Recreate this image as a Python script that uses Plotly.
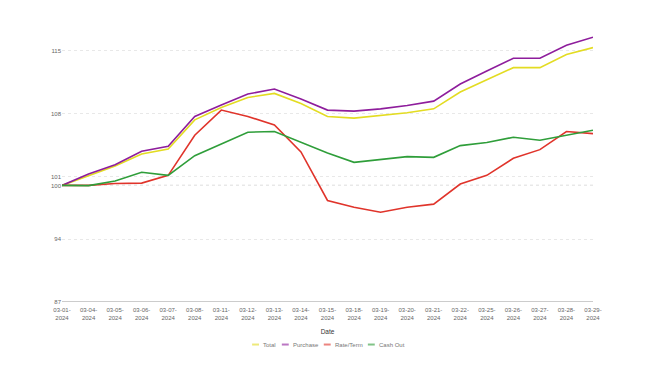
import plotly.graph_objects as go

dates = ["03-01-2024", "03-04-2024", "03-05-2024", "03-06-2024", "03-07-2024", "03-08-2024",
         "03-11-2024", "03-12-2024", "03-13-2024", "03-14-2024", "03-15-2024", "03-18-2024",
         "03-19-2024", "03-20-2024", "03-21-2024", "03-22-2024", "03-25-2024", "03-26-2024",
         "03-27-2024", "03-28-2024", "03-29-2024"]

total = [100, 101.12, 102.16, 103.51, 104.07, 107.31, 108.69, 109.81, 110.26, 109.14, 107.69,
         107.50, 107.76, 108.10, 108.54, 110.41, 111.79, 113.13, 113.13, 114.59, 115.37]
purchase = [100, 101.27, 102.31, 103.81, 104.37, 107.69, 108.96, 110.19, 110.75, 109.63, 108.40,
            108.28, 108.54, 108.92, 109.40, 111.31, 112.76, 114.18, 114.18, 115.63, 116.53]
rate_term = [100, 100, 100.22, 100.26, 101.12, 105.60, 108.40, 107.69, 106.75, 103.73, 98.32,
             97.57, 97.01, 97.57, 97.91, 100.15, 101.12, 103.02, 103.99, 106.01, 105.78]
cash_out = [100, 99.98, 100.49, 101.46, 101.12, 103.32, 104.63, 105.93, 106.01, 104.81, 103.62,
            102.57, 102.87, 103.21, 103.13, 104.44, 104.78, 105.37, 105.04, 105.63, 106.16]

ytick_vals = [87, 94, 100, 101, 108, 115]
tick_labels = [d[:6] + "<br>" + d[6:] for d in dates]

series_names = ["Total", "Purchase", "Rate/Term", "Cash Out"]
series_values = [total, purchase, rate_term, cash_out]
series_colors = ["#e3dc22", "#8e1d9c", "#e0342b", "#2f9e3a"]

# legend layout (paper coords)
legend_line_x = [0.358, 0.414, 0.493, 0.576]
legend_y = -0.153

fig = go.Figure()
for name, vals, color in zip(series_names, series_values, series_colors):
    fig.add_trace(go.Scatter(x=dates, y=vals, name=name, mode="lines",
                             line=dict(color=color, width=1.6), showlegend=False))

fig.add_shape(type="line", xref="paper", yref="y", x0=0, x1=1, y0=100, y1=100,
              line=dict(color="#888888", width=1, dash="dot"), layer="below")
fig.add_shape(type="line", xref="paper", yref="y", x0=0, x1=1, y0=87, y1=87,
              line=dict(color="#cccccc", width=2), layer="above")

for name, color, lx in zip(series_names, series_colors, legend_line_x):
    fig.add_shape(type="line", xref="paper", yref="paper", x0=lx, x1=lx + 0.013,
                  y0=legend_y, y1=legend_y, line=dict(color=color, width=2), opacity=0.6)
    fig.add_annotation(xref="paper", yref="paper", x=lx + 0.017, y=legend_y, text=name,
                       showarrow=False, xanchor="left", yanchor="middle",
                       font=dict(size=6, color="#777777"))

font = "Liberation Sans, Arial, sans-serif"
fig.update_layout(
    width=650, height=372,
    margin=dict(l=54, r=65, t=16, b=78),
    plot_bgcolor="white", paper_bgcolor="white",
    font=dict(family=font, size=6, color="#666666"),
    showlegend=False,
    xaxis=dict(type="category", tickmode="array", tickvals=dates, ticktext=tick_labels,
               showgrid=False, showline=False, zeroline=False, ticks="",
               tickfont=dict(size=6, color="#666666"), ticklabelstandoff=3,
               title=dict(text="Date", font=dict(size=6.5, color="#333333"), standoff=9),
               range=[0, len(dates) - 1]),
    yaxis=dict(range=[87, 118], tickmode="array", tickvals=ytick_vals,
               ticktext=[str(v) for v in ytick_vals],
               showgrid=True, gridcolor="#e8e8e8", griddash="dot", gridwidth=1,
               zeroline=False, showline=False, ticks="",
               tickfont=dict(size=6, color="#666666")),
)

fig.write_html("out.html")
